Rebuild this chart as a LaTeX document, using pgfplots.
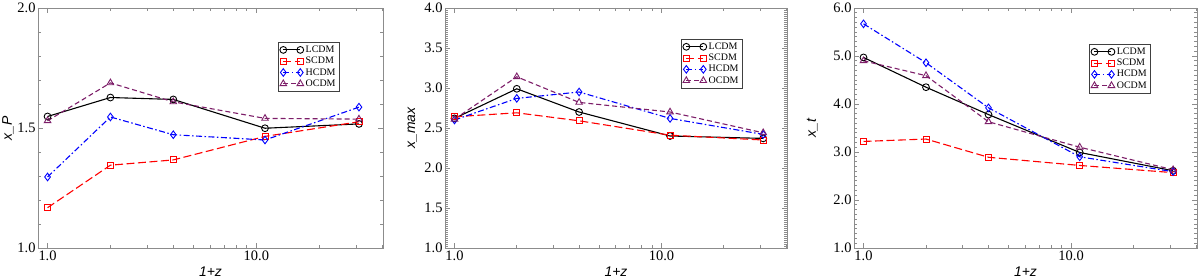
\documentclass[border=0pt]{standalone}
\usepackage{fontspec}
\setmainfont{Liberation Serif}
\setsansfont{Liberation Sans}
\usepackage{pgfplots}
\usepackage{pgfplotstable}
\pgfplotsset{compat=1.18}

\definecolor{ocdmc}{RGB}{125,30,105}
\definecolor{framec}{RGB}{140,140,140}

\pgfplotstableread{
x LCDM SCDM HCDM OCDM
1  1.548 1.168 1.296 1.530
2  1.627 1.345 1.546 1.688
4  1.619 1.367 1.472 1.609
11 1.499 1.465 1.450 1.540
31 1.517 1.526 1.587 1.537
}\tabP
\pgfplotstableread{
x LCDM SCDM HCDM OCDM
1  2.62 2.64 2.60 2.61
2  2.99 2.69 2.87 3.14
4  2.70 2.59 2.95 2.82
11 2.40 2.41 2.62 2.70
31 2.37 2.35 2.42 2.44
}\tabM
\pgfplotstableread{
x LCDM SCDM HCDM OCDM
1  4.97 3.22 5.67 4.90
2  4.35 3.27 4.86 4.59
4  3.78 2.89 3.92 3.63
11 2.99 2.72 2.90 3.10
31 2.61 2.57 2.59 2.63
}\tabT

\pgfplotsset{
  lc/.style={black, solid, mark=o, mark size=3.4bp},
  sc/.style={red, dash pattern=on 8bp off 3.5bp, mark=square, mark size=3bp},
  hc/.style={blue, dash pattern=on 6bp off 2.5bp on 1.5bp off 2.5bp, mark=diamond, mark size=3.8bp},
  oc/.style={ocdmc, dash pattern=on 5bp off 3bp, mark=triangle, mark size=3.8bp},
}

\begin{document}
\begin{tikzpicture}
\useasboundingbox (0,0) rectangle (1200bp,279bp);
\pgfplotsset{
  every axis/.append style={
    scale only axis,
    height=240bp,
    xmin=0.9, xmax=40.4,
    xtick={1,10},
    xticklabels={1.0,10.0},
    minor xtick={2,3,4,5,6,7,8,9,20,30,40},
    tick align=inside,
    major tick length=5bp,
    minor tick length=3bp,
    axis line style={framec, line width=0.9bp},
    every tick/.style={framec, line width=0.7bp},
    tick label style={font=\fontsize{14.5}{16}\selectfont},
    xticklabel style={yshift=1bp},
    yticklabel style={xshift=1bp, /pgf/number format/.cd, fixed, fixed zerofill, precision=1, assume math mode=true},
    xlabel={1+z},
    xlabel style={font=\fontsize{14}{15}\selectfont\sffamily\itshape, at={(axis description cs:0.5,-0.1)}, anchor=center},
    ylabel style={font=\fontsize{14}{15}\selectfont\sffamily\itshape, anchor=center},
    legend cell align=left,
    legend style={draw=black!75, line width=0.6bp, font=\fontsize{10}{11}\selectfont, inner xsep=2bp, inner ysep=1.5bp, row sep=-0.8bp, anchor=north east, fill=white},
    legend image code/.code={\draw plot coordinates {(0bp,0bp) (17bp,0bp)};},
  },
  every axis plot/.append style={line width=1.1bp, mark options={solid, line width=0.9bp}},
}

\begin{semilogxaxis}[at={(38bp,31bp)}, anchor=south west, width=345bp,
  ymin=1, ymax=2, ytick={1,1.5,2}, minor ytick={1.1,1.2,1.3,1.4,1.6,1.7,1.8,1.9},
  ylabel={x\_P}, ylabel style={at={(axis description cs:-0.087,0.5)}},
  legend style={at={(axis description cs:0.875,0.858)}}]
\addplot[lc] table[x=x,y=LCDM]{\tabP};
\addplot[sc] table[x=x,y=SCDM]{\tabP};
\addplot[hc] table[x=x,y=HCDM]{\tabP};
\addplot[oc] table[x=x,y=OCDM]{\tabP};
\legend{LCDM,SCDM,HCDM,OCDM}
\end{semilogxaxis}

\begin{semilogxaxis}[at={(445bp,31bp)}, anchor=south west, width=342bp,
  ymin=1, ymax=4, ytick={1,1.5,...,4}, minor y tick num=19,
  ylabel={x\_max}, ylabel style={at={(axis description cs:-0.096,0.5)}},
  legend style={at={(axis description cs:0.871,0.871)}}]
\addplot[lc] table[x=x,y=LCDM]{\tabM};
\addplot[sc] table[x=x,y=SCDM]{\tabM};
\addplot[hc] table[x=x,y=HCDM]{\tabM};
\addplot[oc] table[x=x,y=OCDM]{\tabM};
\legend{LCDM,SCDM,HCDM,OCDM}
\end{semilogxaxis}

\begin{semilogxaxis}[at={(854bp,31bp)}, anchor=south west, width=343bp,
  ymin=1, ymax=6, ytick={1,2,...,6}, minor y tick num=9,
  ylabel={x\_t}, ylabel style={at={(axis description cs:-0.122,0.5)}},
  legend style={at={(axis description cs:0.866,0.85)}}]
\addplot[lc] table[x=x,y=LCDM]{\tabT};
\addplot[sc] table[x=x,y=SCDM]{\tabT};
\addplot[hc] table[x=x,y=HCDM]{\tabT};
\addplot[oc] table[x=x,y=OCDM]{\tabT};
\legend{LCDM,SCDM,HCDM,OCDM}
\end{semilogxaxis}
\end{tikzpicture}
\end{document}
